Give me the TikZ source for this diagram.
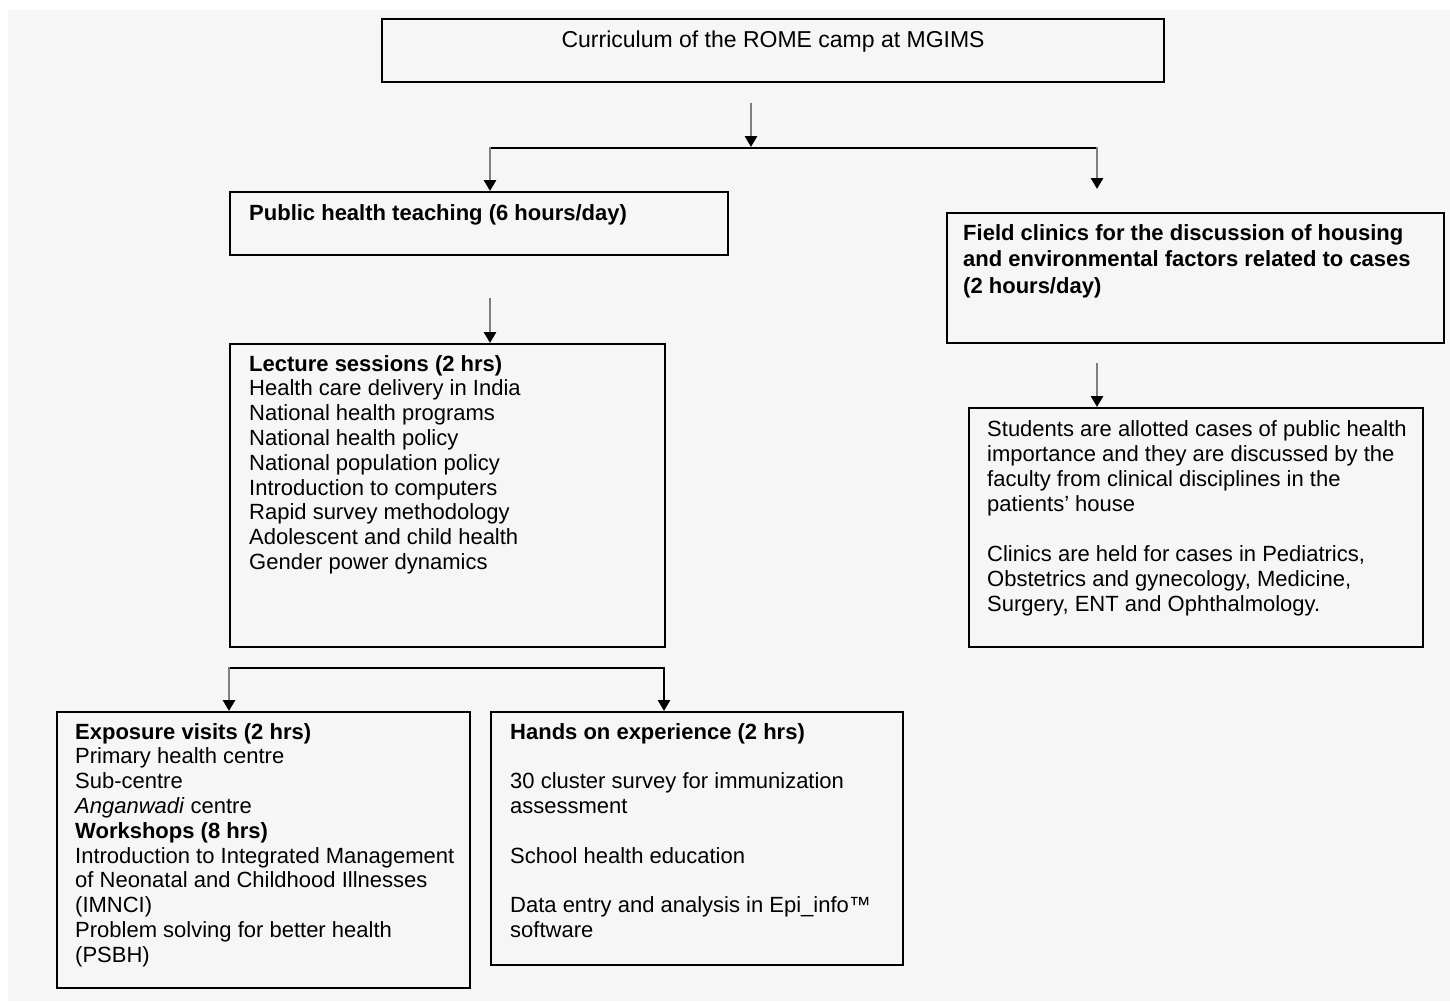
\documentclass[tikz,border=0pt]{standalone}
\usepackage{fontspec}
\setmainfont{Liberation Sans}
\usetikzlibrary{positioning,arrows.meta}
\definecolor{bggray}{HTML}{F6F6F6}
\definecolor{stemgray}{HTML}{7F7F7F}
\begin{document}
\begin{tikzpicture}[x=1pt,y=-1pt,line cap=rect,line join=miter,
  box/.style={draw=black,line width=2.2pt,anchor=north west,inner sep=0pt},
  txt/.style={align=left,inner sep=0pt,font=\fontsize{22}{24.8}\selectfont},
  arr/.style={draw=stemgray,line width=2.8pt,-{Triangle[length=11pt,width=12pt,black]}},
  lnk/.style={draw=black,line width=2.2pt}]
\useasboundingbox (0,0) rectangle (1450,1001);
\fill[white] (0,0) rectangle (1450,1001);
\fill[bggray] (8,10) rectangle (1450,1001);
% boxes
\node[box,minimum width=782pt,minimum height=63pt] (title) at (381,18) {};
\node[box,minimum width=498pt,minimum height=63pt] (pht) at (229,191) {};
\node[box,minimum width=435pt,minimum height=303pt] (lec) at (229,343) {};
\node[box,minimum width=497pt,minimum height=130pt] (field) at (946,212) {};
\node[box,minimum width=454pt,minimum height=239pt] (stud) at (968,407) {};
\node[box,minimum width=413pt,minimum height=276pt] (expo) at (56,711) {};
\node[box,minimum width=412pt,minimum height=253pt] (hand) at (490,711) {};
% texts
\node[txt,font=\fontsize{23}{26}\selectfont,anchor=north,below=13pt of title.north] (titletxt) {Curriculum of the ROME camp at MGIMS};
\node[txt,below right=13pt and 20pt of pht.north west] (phttxt) {\textbf{Public health teaching (6 hours/day)}};
\node[txt,below right=12pt and 20pt of lec.north west] (lectxt) {\textbf{Lecture sessions (2 hrs)}\\
  Health care delivery in India\\
  National health programs\\
  National health policy\\
  National population policy\\
  Introduction to computers\\
  Rapid survey methodology\\
  Adolescent and child health\\
  Gender power dynamics};
\node[txt,font=\fontsize{22}{26.5}\selectfont,below right=12pt and 17pt of field.north west] (fieldtxt) {\textbf{Field clinics for the discussion of housing}\\
  \textbf{and environmental factors related to cases}\\
  \textbf{(2 hours/day)}};
\node[txt,font=\fontsize{22}{25}\selectfont,below right=13pt and 19pt of stud.north west] (studtxt) {Students are allotted cases of public health\\
  importance and they are discussed by the\\
  faculty from clinical disciplines in the\\
  patients' house\\[25pt]
  Clinics are held for cases in Pediatrics,\\
  Obstetrics and gynecology, Medicine,\\
  Surgery, ENT and Ophthalmology.};
\node[txt,below right=12pt and 19pt of expo.north west] (expotxt) {\textbf{Exposure visits (2 hrs)}\\
  Primary health centre\\
  Sub-centre\\
  \textit{Anganwadi} centre\\
  \textbf{Workshops (8 hrs)}\\
  Introduction to Integrated Management\\
  of Neonatal and Childhood Illnesses\\
  (IMNCI)\\
  Problem solving for better health\\
  (PSBH)};
\node[txt,below right=12pt and 20pt of hand.north west] (handtxt) {\textbf{Hands on experience (2 hrs)}\\[24.8pt]
  30 cluster survey for immunization\\
  assessment\\[24.8pt]
  School health education\\[24.8pt]
  Data entry and analysis in Epi\_info™\\
  software};
% connectors
\coordinate (t1) at (751,104);
\coordinate (t2) at (751,147);
\coordinate (hl) at (490,148);
\coordinate (hr) at (1097,148);
\coordinate (hr2) at (1097,189);
\coordinate (p1) at (490,299);
\coordinate (f1) at (1097,364);
\coordinate (bl) at (229,668);
\coordinate (br) at (664,668);
\draw[arr] (t1) -- (t2);
\draw[lnk] (hl) -- (hr);
\draw[arr] (hl) -- (hl |- pht.north);
\draw[arr] (hr) -- (hr2);
\draw[arr] (p1) -- (p1 |- lec.north);
\draw[arr] (f1) -- (f1 |- stud.north);
\draw[lnk] (bl) -- (br);
\draw[arr] (bl) -- (bl |- expo.north);
\draw[arr,draw=black] (br) -- (br |- hand.north);
\end{tikzpicture}
\end{document}
